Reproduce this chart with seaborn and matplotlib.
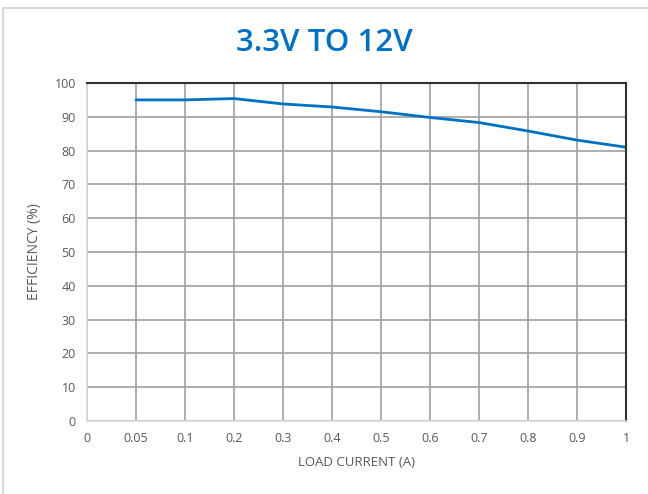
import numpy as np
import matplotlib
matplotlib.use("Agg")
import matplotlib.pyplot as plt
import seaborn as sns
from matplotlib.patches import Rectangle

# ----------------------------------------------------------------
# Data
# ----------------------------------------------------------------
load_labels = ["0", "0.05", "0.1", "0.2", "0.3", "0.4", "0.5",
               "0.6", "0.7", "0.8", "0.9", "1"]
efficiency = [np.nan, 95.0, 95.0, 95.4, 93.8, 92.9, 91.5,
              89.8, 88.3, 85.8, 83.1, 81.0]
y_ticks = list(range(0, 101, 10))

TITLE = "3.3V TO 12V"
BLUE = "#0070C0"
TEXT = "#595959"

# ----------------------------------------------------------------
# Figure
# ----------------------------------------------------------------
sns.set_theme(style="white")
plt.rcParams["font.family"] = ["Open Sans", "DejaVu Sans"]

fig = plt.figure(figsize=(6.48, 4.94), dpi=100)
fig.patches.append(Rectangle((3 / 648, -0.1), 1.2, 1 - 8 / 494 + 0.1,
                             transform=fig.transFigure, fill=False,
                             edgecolor="#d9d9d9", linewidth=1.5))

ax = fig.add_axes([87 / 648, 1 - 421 / 494, 539 / 648, 338 / 494])
pos = np.arange(len(load_labels))
sns.lineplot(x=pos, y=efficiency, color=BLUE, linewidth=2, ax=ax)

ax.set_xlim(0, len(load_labels) - 1)
ax.set_ylim(0, 100)
ax.set_xticks(pos)
ax.set_xticklabels(load_labels)
ax.set_yticks(y_ticks)
ax.tick_params(axis="both", length=0, labelsize=9, labelcolor=TEXT, pad=8)

ax.grid(True, color="#a0a0a0", linewidth=1.2)
for side in ["left", "bottom"]:
    ax.spines[side].set_color("#d9d9d9")
    ax.spines[side].set_linewidth(1.2)
for side in ["top", "right"]:
    ax.spines[side].set_color("#303030")
    ax.spines[side].set_linewidth(1.5)

ax.set_xlabel("LOAD CURRENT (A)", fontsize=9.5, color=TEXT, labelpad=8)
ax.set_ylabel("EFFICIENCY (%)", fontsize=10, color=TEXT, labelpad=9)

fig.text(0.5, 1 - 43 / 494, TITLE, ha="center", va="center",
         fontsize=22.5, fontweight="semibold", color=BLUE)

fig.savefig("out.png", dpi=100)
